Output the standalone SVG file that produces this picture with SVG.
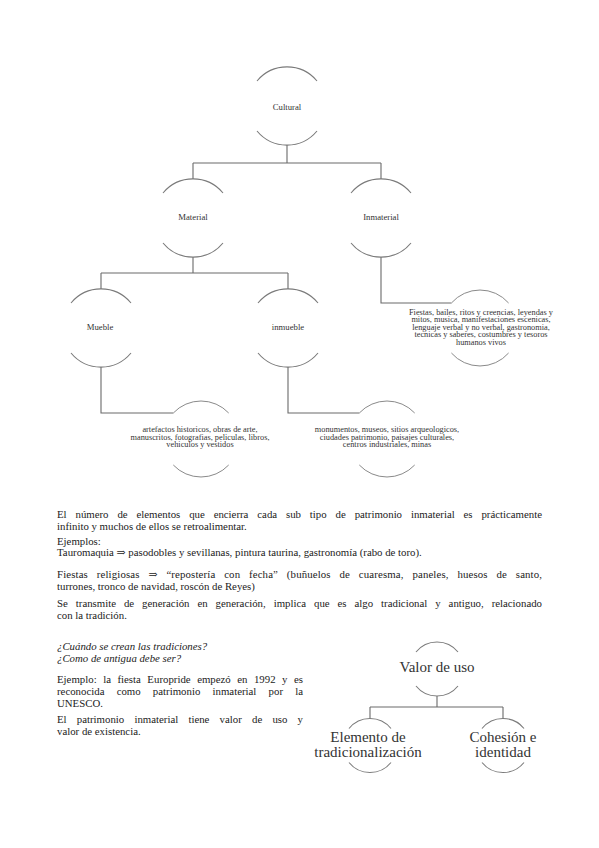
<svg xmlns="http://www.w3.org/2000/svg" width="599" height="848" viewBox="0 0 599 848">
<style>
.bg{fill:#ffffff}
.arc{fill:none;stroke:#7a7a7a;stroke-width:1.1}
.arcl{fill:none;stroke:#8a8a8a;stroke-width:1}
.con{fill:none;stroke:#6a6a6a;stroke-width:1.1}
.lbl{font-family:"Liberation Serif","DejaVu Serif",serif;font-size:8.7px;fill:#333;text-anchor:middle}
.leaf{font-family:"Liberation Serif","DejaVu Serif",serif;font-size:8.3px;fill:#333;text-anchor:middle}
.big{font-family:"Liberation Serif","DejaVu Serif",serif;font-size:15px;fill:#333;text-anchor:middle}
.p{font-family:"Liberation Serif","DejaVu Serif",serif;font-size:10.8px;fill:#222}
.pi{font-family:"Liberation Serif","DejaVu Serif",serif;font-size:10.8px;fill:#222;font-style:italic}
</style>
<rect class="bg" x="0" y="0" width="599" height="848"/>

<g id="connectors">
<path class="con" d="M287,145 V163 M193,163 H381 M193,163 V179 M381,163 V179"/>
<path class="con" d="M193,257 V273 M101,273 H288 M101,273 V289 M288,273 V289"/>
<path class="con" d="M381,257 V303 H451.4"/>
<path class="con" d="M101,367 V413 H173.3"/>
<path class="con" d="M288,367 V413 H359.3"/>
<path class="con" d="M437,696 V707 M370,707 H503 M370,707 V718.5 M503,707 V718.5"/>
</g>

<g id="node-cultural">
<path class="arc" d="M257,81 A39,39 0 0 1 317,81 M257,131 A39,39 0 0 0 317,131"/>
<text class="lbl" x="287" y="109.5">Cultural</text>
</g>
<g id="node-material">
<path class="arc" d="M163,193 A39,39 0 0 1 223,193 M163,243 A39,39 0 0 0 223,243"/>
<text class="lbl" x="193" y="219.5">Material</text>
</g>
<g id="node-inmaterial">
<path class="arc" d="M351,193 A39,39 0 0 1 411,193 M351,243 A39,39 0 0 0 411,243"/>
<text class="lbl" x="381" y="219.5">Inmaterial</text>
</g>
<g id="node-mueble">
<path class="arc" d="M71,303 A39,39 0 0 1 131,303 M71,353 A39,39 0 0 0 131,353"/>
<text class="lbl" x="100" y="329.5">Mueble</text>
</g>
<g id="node-inmueble">
<path class="arc" d="M258,303 A39,39 0 0 1 318,303 M258,353 A39,39 0 0 0 318,353"/>
<text class="lbl" x="288" y="329.5">inmueble</text>
</g>
<g id="leaf-inmaterial">
<path class="arcl" d="M451.4,303 A38,38 0 0 1 508.6,303 M451.4,353 A38,38 0 0 0 508.6,353"/>
<text class="leaf" x="481" y="314.5">Fiestas, bailes, ritos y creencias, leyendas y</text>
<text class="leaf" x="481" y="322">mitos, musica, manifestaciones escenicas,</text>
<text class="leaf" x="481" y="329.5">lenguaje verbal y no verbal, gastronomia,</text>
<text class="leaf" x="481" y="337">tecnicas y saberes, costumbres y tesoros</text>
<text class="leaf" x="481" y="344.5">humanos vivos</text>
</g>
<g id="leaf-mueble">
<path class="arcl" d="M173.3,413 A38,38 0 0 1 228.7,413 M173.3,465 A38,38 0 0 0 228.7,465"/>
<text class="leaf" x="200" y="432">artefactos historicos, obras de arte,</text>
<text class="leaf" x="200" y="439.5">manuscritos, fotografias, peliculas, libros,</text>
<text class="leaf" x="200" y="447">vehiculos y vestidos</text>
</g>
<g id="leaf-inmueble">
<path class="arcl" d="M359.3,413 A38,38 0 0 1 414.7,413 M359.3,465 A38,38 0 0 0 414.7,465"/>
<text class="leaf" x="387" y="432">monumentos, museos, sitios arqueologicos,</text>
<text class="leaf" x="387" y="439.5">ciudades patrimonio, paisajes culturales,</text>
<text class="leaf" x="387" y="447">centros industriales, minas</text>
</g>

<g id="paragraphs">
<text class="p" x="57" y="518" word-spacing="6.2" textLength="485" lengthAdjust="spacing">El número de elementos que encierra cada sub tipo de patrimonio inmaterial es prácticamente</text>
<text class="p" x="57" y="530">infinito y muchos de ellos se retroalimentar.</text>
<text class="p" x="57" y="545">Ejemplos:</text>
<text class="p" x="57" y="556">Tauromaquia ⇒ pasodobles y sevillanas, pintura taurina, gastronomía (rabo de toro).</text>
<text class="p" x="57" y="578" word-spacing="6" textLength="485" lengthAdjust="spacing">Fiestas religiosas ⇒ “repostería con fecha” (buñuelos de cuaresma, paneles, huesos de santo,</text>
<text class="p" x="57" y="590">turrones, tronco de navidad, roscón de Reyes)</text>
<text class="p" x="57" y="607" word-spacing="5.3" textLength="485" lengthAdjust="spacing">Se transmite de generación en generación, implica que es algo tradicional y antiguo, relacionado</text>
<text class="p" x="57" y="619">con la tradición.</text>
<text class="pi" x="57" y="650">¿Cuándo se crean las tradiciones?</text>
<text class="pi" x="57" y="662">¿Como de antigua debe ser?</text>
<text class="p" x="57" y="683" word-spacing="3.8" textLength="246" lengthAdjust="spacing">Ejemplo: la fiesta Europride empezó en 1992 y es</text>
<text class="p" x="57" y="695" word-spacing="9.5" textLength="246" lengthAdjust="spacing">reconocida como patrimonio inmaterial por la</text>
<text class="p" x="57" y="707">UNESCO.</text>
<text class="p" x="57" y="723" word-spacing="7.5" textLength="246" lengthAdjust="spacing">El patrimonio inmaterial tiene valor de uso y</text>
<text class="p" x="57" y="735">valor de existencia.</text>
</g>

<g id="node-valor-uso">
<path class="arc" d="M416,652 A27,27 0 0 1 458,652 M416,686 A27,27 0 0 0 458,686"/>
<text class="big" x="437" y="672">Valor de uso</text>
</g>
<g id="node-elemento">
<path class="arc" d="M349,728.5 A27,27 0 0 1 391,728.5 M349,762.5 A27,27 0 0 0 391,762.5"/>
<text class="big" x="368" y="742">Elemento de</text>
<text class="big" x="368" y="757">tradicionalización</text>
</g>
<g id="node-cohesion">
<path class="arc" d="M482,728.5 A27,27 0 0 1 524,728.5 M482,762.5 A27,27 0 0 0 524,762.5"/>
<text class="big" x="503" y="742">Cohesión e</text>
<text class="big" x="503" y="757">identidad</text>
</g>
</svg>
